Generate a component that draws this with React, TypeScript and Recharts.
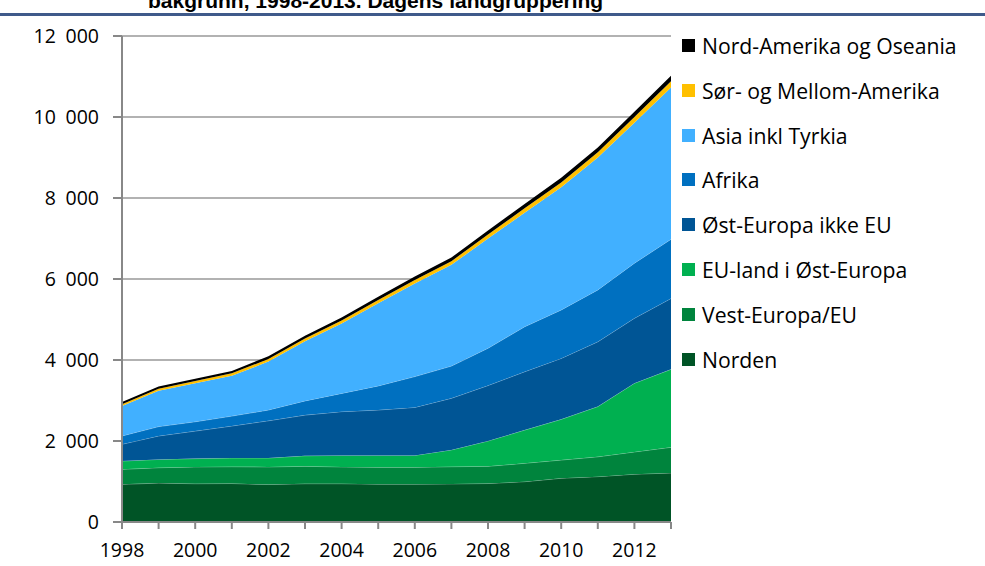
import { AreaChart, Area, XAxis, YAxis, CartesianGrid } from 'recharts'

const years = [1998, 1999, 2000, 2001, 2002, 2003, 2004, 2005, 2006, 2007, 2008, 2009, 2010, 2011, 2012, 2013]

const norden = [930, 960, 945, 950, 925, 945, 945, 935, 935, 940, 950, 995, 1080, 1120, 1180, 1210]
const vestEuropa = [370, 380, 415, 415, 435, 430, 415, 415, 415, 425, 425, 455, 450, 490, 550, 635]
const euOst = [205, 205, 205, 215, 220, 260, 285, 295, 295, 415, 625, 820, 1005, 1240, 1695, 1925]
const ostIkkeEu = [415, 580, 680, 790, 920, 1005, 1080, 1120, 1185, 1275, 1370, 1440, 1505, 1600, 1605, 1750]
const afrika = [205, 230, 230, 245, 265, 350, 450, 595, 760, 795, 920, 1110, 1195, 1280, 1360, 1460]
const asia = [740, 885, 950, 995, 1195, 1470, 1725, 2040, 2300, 2500, 2710, 2815, 3030, 3270, 3470, 3750]
const sorAmerika = [45, 50, 55, 60, 65, 70, 75, 80, 85, 90, 100, 110, 120, 130, 140, 150]
const nordAmerika = [50, 55, 60, 60, 65, 70, 75, 80, 85, 90, 100, 105, 115, 120, 130, 140]

const yTicks = [0, 2000, 4000, 6000, 8000, 10000, 12000]

const series = [
  { key: 'norden', name: 'Norden', values: norden, color: '#005426', edge: true },
  { key: 'vest', name: 'Vest-Europa/EU', values: vestEuropa, color: '#00843d', edge: true },
  { key: 'euost', name: 'EU-land i Øst-Europa', values: euOst, color: '#00b050', edge: true },
  { key: 'ost', name: 'Øst-Europa ikke EU', values: ostIkkeEu, color: '#005595', edge: true },
  { key: 'afrika', name: 'Afrika', values: afrika, color: '#0070c0', edge: true },
  { key: 'asia', name: 'Asia inkl Tyrkia', values: asia, color: '#41b0ff', edge: false },
  { key: 'sor', name: 'Sør- og Mellom-Amerika', values: sorAmerika, color: '#ffc000', edge: false },
  { key: 'nord', name: 'Nord-Amerika og Oseania', values: nordAmerika, color: '#000000', edge: false },
]

const data = years.map((year, i) => {
  const row: Record<string, number> = { year }
  series.forEach(s => {
    row[s.key] = s.values[i]
  })
  return row
})

const fmt = (v: number) => {
  if (v < 1000) return String(v)
  const s = String(v)
  return s.slice(0, s.length - 3) + '\u2002' + s.slice(s.length - 3)
}

const font = '"Open Sans", sans-serif'

export default function App() {
  return (
    <div style={{ position: 'absolute', left: 0, top: 0, width: 985, height: 566, overflow: 'hidden', background: '#fff' }}>
      <div
        style={{
          position: 'absolute',
          left: 148,
          top: -10,
          fontFamily: '"Liberation Sans", Arial, sans-serif',
          fontWeight: 'bold',
          fontSize: 21,
          lineHeight: '21px',
          whiteSpace: 'nowrap',
          color: '#000',
        }}
      >
        bakgrunn, 1998-2013. Dagens landgruppering
      </div>
      <div style={{ position: 'absolute', left: 0, top: 13, width: 985, height: 3, background: '#3f5a8a' }} />

      <div style={{ position: 'absolute', left: 0, top: 0 }}>
        <AreaChart width={985} height={566} data={data} margin={{ top: 36, right: 314, left: 0, bottom: 0 }}>
          <CartesianGrid vertical={false} stroke="#999999" strokeWidth={1.5} />
          <XAxis
            dataKey="year"
            interval={0}
            height={44}
            tickSize={7}
            tickMargin={14}
            tickFormatter={(v: number) => (v % 2 === 0 ? String(v) : '')}
            stroke="#888888"
            strokeWidth={2}
            tick={{ fill: '#000', fontSize: 19.5, fontFamily: font }}
          />
          <YAxis
            domain={[0, 12000]}
            ticks={yTicks}
            width={122}
            tickSize={9}
            tickMargin={14}
            tickFormatter={fmt}
            stroke="#888888"
            strokeWidth={2}
            tick={{ fill: '#000', fontSize: 19.5, fontFamily: font }}
          />
          {series.map(s => (
            <Area
              key={s.key}
              type="linear"
              dataKey={s.key}
              name={s.name}
              stackId="1"
              fill={s.color}
              fillOpacity={1}
              stroke={s.edge ? '#ffffff' : 'none'}
              strokeOpacity={0.35}
              strokeWidth={1}
              isAnimationActive={false}
            />
          ))}
        </AreaChart>
      </div>

      <div style={{ position: 'absolute', left: 682, top: 0, fontFamily: font, fontSize: 21.2, color: '#000' }}>
        {[...series].reverse().map((s, i) => (
          <div
            key={s.key}
            style={{ position: 'absolute', left: 0, top: 45.5 + i * 44.8 - 15, height: 30, display: 'flex', alignItems: 'center', whiteSpace: 'nowrap' }}
          >
            <span style={{ display: 'inline-block', width: 13, height: 13, background: s.color, marginRight: 7 }} />
            <span>{s.name}</span>
          </div>
        ))}
      </div>
    </div>
  )
}
